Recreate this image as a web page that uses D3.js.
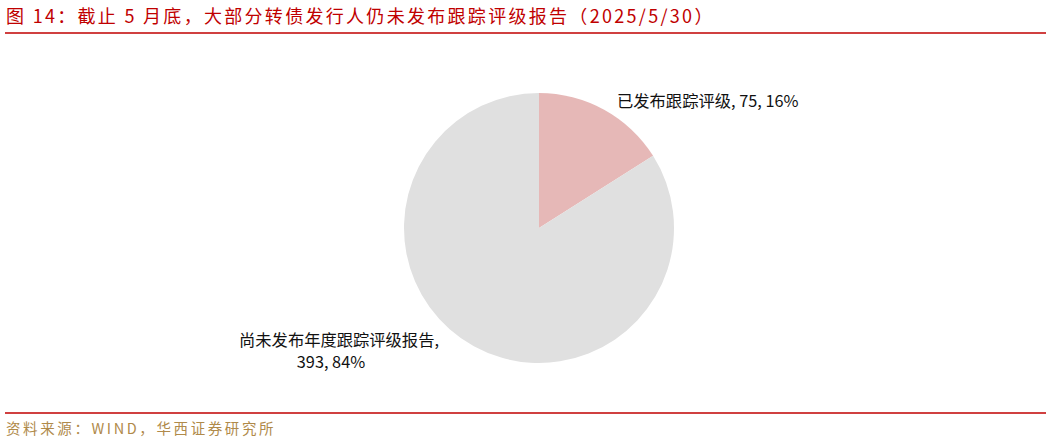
<!DOCTYPE html>
<html>
<head>
<meta charset="utf-8">
<script src="https://cdn.jsdelivr.net/npm/d3@7"></script>
<style>
  body { margin: 0; background: #fff; }
  svg { display: block; font-family: "Noto Sans CJK SC", "Noto Sans", sans-serif; }
</style>
</head>
<body>
<svg id="canvas" width="1053" height="443"></svg>
<script>
const categories = ['已发布跟踪评级', '尚未发布年度跟踪评级报告'];
const counts = [75, 393];
const shares = ['16%', '84%'];
const colors = ['#e6b8b7', '#e0e0e0'];

const svg = d3.select('#canvas');

// title + rules
svg.append('text')
  .attr('x', 6).attr('y', 23)
  .attr('fill', '#c00000')
  .attr('font-size', 18)
  .attr('letter-spacing', 2.3)
  .text('图 14：截止 5 月底，大部分转债发行人仍未发布跟踪评级报告（2025/5/30）');
svg.append('line')
  .attr('x1', 5).attr('x2', 1046).attr('y1', 33).attr('y2', 33)
  .attr('stroke', '#c00000').attr('stroke-width', 1.5);
svg.append('line')
  .attr('x1', 5).attr('x2', 1046).attr('y1', 413).attr('y2', 413)
  .attr('stroke', '#c00000').attr('stroke-width', 1.5);
svg.append('text')
  .attr('x', 6).attr('y', 434)
  .attr('fill', '#b08a4a')
  .attr('font-size', 14.5)
  .attr('letter-spacing', 2.6)
  .text('资料来源：WIND，华西证券研究所');

// pie
const cx = 539, cy = 228, r = 135;
const pie = d3.pie().sort(null).value(d => d)(counts);
const arc = d3.arc().innerRadius(0).outerRadius(r);

const g = svg.append('g').attr('transform', `translate(${cx},${cy})`);
g.selectAll('path')
  .data(pie)
  .enter()
  .append('path')
  .attr('d', arc)
  .attr('fill', (d, i) => colors[i]);

// labels
svg.append('text')
  .attr('x', 617).attr('y', 107)
  .attr('font-size', 16.3).attr('fill', '#111')
  .text(`${categories[0]}, ${counts[0]}, ${shares[0]}`);

svg.append('text')
  .attr('text-anchor', 'middle')
  .attr('font-size', 16.3).attr('fill', '#111')
  .attr('x', 339).attr('y', 346)
  .text(`${categories[1]},`);
svg.append('text')
  .attr('text-anchor', 'middle')
  .attr('font-size', 16.3).attr('fill', '#111')
  .attr('x', 331).attr('y', 368)
  .text(`${counts[1]}, ${shares[1]}`);
</script>
</body>
</html>
